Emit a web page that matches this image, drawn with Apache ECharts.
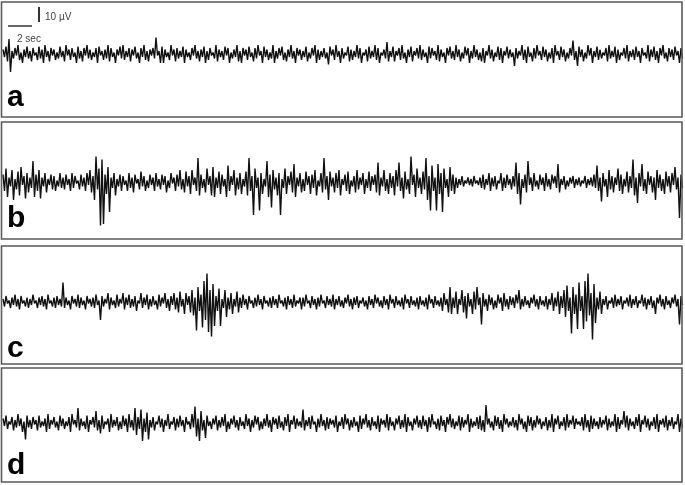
<!DOCTYPE html>
<html>
<head>
<meta charset="utf-8">
<script src="https://cdn.jsdelivr.net/npm/echarts@6/dist/echarts.min.js"></script>
<style>
html, body { margin: 0; padding: 0; background: #fff; }
#main { width: 685px; height: 485px; }
</style>
</head>
<body>
<div id="main"></div>
<script>
// 每 0.25 秒一格, 每格读取上沿和下沿 (µV)
var step = 0.25;

var hiA = [
	3,5,10,2,4,6,1,3,5,2,
	4,1,5,3,6,2,4,3,1,5,
	2,6,3,4,1,5,2,4,6,3,
	1,4,5,2,3,6,4,1,3,5,
	6,2,4,3,5,1,4,6,2,3,
	4,11,2,5,3,1,6,3,4,2,
	5,3,1,4,6,2,3,5,2,4,
	1,6,3,2,5,4,1,3,6,2,
	4,3,5,1,4,6,2,5,3,1,
	6,2,4,5,1,3,6,2,4,3,
	2,5,1,4,6,3,2,4,1,5,
	3,6,2,4,1,5,3,2,6,4,
	1,3,5,2,6,4,1,3,8,2,
	5,2,4,6,1,3,5,2,4,6,
	3,1,5,4,2,6,3,1,4,5,
	2,6,3,1,5,4,2,6,3,1,
	4,2,6,3,1,5,4,2,5,3,
	1,4,2,6,3,5,1,4,6,2,
	5,3,1,4,6,2,5,3,1,4,
	9,2,5,3,1,6,4,2,5,3,
	1,4,6,2,5,3,1,4,6,2,
	3,5,2,4,1,6,3,5,2,4,
	6,1,4,3,5,2,4
];
var loA = [
	-2,-5,-12,-3,-1,-4,-6,-2,-3,-5,
	-1,-4,-3,-6,-2,-5,-1,-4,-3,-2,
	-5,-1,-4,-2,-6,-3,-5,-1,-3,-4,
	-2,-6,-1,-4,-3,-5,-2,-6,-1,-3,
	-4,-2,-5,-1,-3,-6,-2,-4,-5,-1,
	-3,-1,-6,-6,-2,-4,-1,-5,-3,-2,
	-6,-2,-4,-1,-3,-5,-2,-6,-4,-1,
	-3,-5,-2,-4,-1,-6,-3,-2,-5,-6,
	-1,-4,-2,-5,-3,-1,-6,-2,-4,-3,
	-6,-3,-1,-4,-5,-2,-3,-6,-1,-4,
	-2,-5,-3,-1,-6,-4,-2,-3,-7,-1,
	-4,-2,-6,-3,-1,-5,-4,-2,-3,-6,
	-1,-5,-3,-2,-4,-6,-1,-3,-5,-2,
	-5,-1,-4,-3,-6,-2,-5,-1,-3,-4,
	-2,-6,-3,-1,-4,-5,-2,-6,-1,-3,
	-4,-2,-5,-3,-1,-6,-3,-2,-4,-5,
	-6,-1,-3,-5,-2,-4,-6,-1,-3,-2,
	-8,-3,-1,-4,-6,-2,-5,-3,-1,-4,
	-2,-5,-3,-6,-1,-4,-2,-5,-3,-1,
	-4,-8,-2,-5,-3,-1,-6,-2,-4,-3,
	-1,-5,-3,-2,-6,-4,-1,-3,-5,-2,
	-4,-2,-6,-1,-3,-5,-2,-4,-6,-1,
	-3,-5,-2,-4,-1,-6,-3
];

var hiB = [
	5,9,3,8,2,7,10,4,6,3,
	14,5,8,3,6,2,5,4,1,6,
	3,5,2,6,4,1,5,3,6,8,
	4,17,9,15,5,10,3,6,2,5,
	4,1,6,3,5,2,7,4,1,5,
	3,6,2,5,4,1,6,3,5,8,
	2,7,4,8,3,16,5,2,9,4,
	10,3,7,5,2,11,4,8,3,6,
	2,7,16,4,9,3,6,2,14,5,
	8,3,6,2,9,4,7,12,3,6,
	2,7,4,5,8,1,6,16,4,7,
	3,6,8,2,5,7,1,4,8,3,
	6,2,7,4,5,13,3,8,2,6,
	4,8,13,3,7,2,17,5,9,3,
	7,16,4,11,3,12,6,9,2,10,
	5,3,2,4,1,3,2,4,1,3,
	5,2,6,3,4,1,6,3,5,2,
	4,13,6,2,5,14,3,6,1,5,
	3,6,2,5,4,12,2,4,1,3,
	4,2,3,1,4,2,3,5,11,3,
	6,2,8,4,3,9,5,2,7,4,
	15,3,6,12,2,7,4,3,8,5,
	2,7,4,6,10,3,5
];
var loB = [
	-6,-10,-3,-12,-5,-9,-2,-11,-7,-4,
	-10,-6,-11,-3,-7,-2,-5,-6,-3,-4,
	-5,-2,-6,-4,-1,-5,-3,-6,-2,-7,
	-12,-5,-29,-28,-8,-20,-4,-9,-3,-6,
	-2,-6,-4,-7,-1,-5,-3,-6,-4,-2,
	-6,-3,-5,-2,-7,-4,-1,-6,-3,-5,
	-7,-3,-8,-2,-6,-9,-4,-7,-2,-9,
	-10,-4,-8,-3,-10,-6,-2,-9,-5,-8,
	-3,-9,-6,-22,-4,-19,-8,-3,-10,-17,
	-5,-9,-22,-4,-8,-2,-7,-10,-3,-7,
	-6,-2,-8,-4,-9,-3,-7,-5,-12,-3,
	-7,-4,-9,-2,-6,-8,-3,-7,-5,-2,
	-8,-4,-6,-2,-7,-9,-3,-6,-8,-4,
	-9,-3,-6,-11,-5,-8,-2,-10,-4,-8,
	-5,-12,-19,-6,-19,-8,-20,-4,-10,-6,
	-8,-4,-2,-3,-1,-2,-3,-1,-2,-4,
	-5,-2,-6,-3,-5,-1,-6,-4,-2,-5,
	-3,-8,-15,-4,-7,-2,-6,-3,-5,-2,
	-6,-3,-5,-1,-4,-7,-2,-5,-3,-1,
	-4,-2,-3,-1,-4,-2,-3,-4,-6,-13,
	-3,-10,-5,-7,-2,-6,-8,-3,-7,-4,
	-9,-14,-3,-6,-8,-2,-7,-12,-4,-6,
	-8,-3,-7,-2,-5,-24,-4
];

var hiC = [
	2,4,1,3,5,2,4,1,3,2,
	5,1,3,4,2,5,1,3,4,2,
	13,3,1,4,2,5,3,1,4,2,
	3,5,1,4,2,6,3,1,5,2,
	6,3,5,2,4,1,6,3,5,2,
	4,1,5,3,6,2,4,6,3,7,
	2,6,4,8,3,10,5,14,19,8,
	12,4,9,2,8,3,6,2,7,3,
	5,2,4,1,3,5,2,4,1,3,
	4,2,5,1,3,4,2,5,1,3,
	3,5,1,4,2,3,5,1,4,2,
	5,2,4,1,3,5,2,3,4,1,
	3,1,4,2,5,3,1,4,2,5,
	2,4,1,3,5,2,4,1,3,4,
	1,3,5,2,4,1,3,6,2,10,
	3,7,2,8,4,6,2,7,10,3,
	6,2,5,3,1,5,3,6,2,4,
	3,5,8,2,4,1,3,5,2,4,
	1,4,2,6,3,7,4,8,11,3,
	10,5,13,4,14,19,6,12,3,7,
	2,4,1,3,5,2,4,1,3,5,
	2,4,1,5,3,2,4,1,3,5,
	2,4,1,3,5,2,4
];
var loC = [
	-3,-1,-4,-2,-3,-5,-1,-3,-4,-2,
	-1,-4,-2,-3,-5,-1,-3,-4,-2,-3,
	-4,-2,-5,-1,-3,-4,-2,-5,-1,-3,
	-4,-2,-12,-3,-1,-5,-2,-4,-3,-1,
	-5,-2,-4,-3,-6,-1,-4,-2,-5,-3,
	-2,-5,-3,-1,-4,-6,-2,-5,-7,-3,
	-8,-2,-7,-9,-19,-6,-17,-12,-20,-23,
	-16,-6,-16,-4,-10,-5,-8,-3,-7,-4,
	-2,-5,-1,-4,-3,-2,-5,-1,-3,-4,
	-2,-4,-1,-3,-5,-2,-4,-3,-1,-5,
	-3,-1,-4,-2,-5,-3,-1,-4,-2,-3,
	-5,-2,-3,-4,-1,-3,-5,-2,-4,-1,
	-3,-5,-2,-4,-1,-3,-4,-2,-5,-1,
	-4,-2,-3,-5,-1,-4,-2,-3,-5,-2,
	-3,-5,-1,-4,-2,-3,-6,-2,-7,-8,
	-4,-8,-2,-7,-11,-3,-8,-5,-2,-15,
	-3,-6,-2,-5,-4,-1,-6,-3,-5,-2,
	-4,-1,-5,-3,-2,-4,-1,-3,-5,-2,
	-3,-5,-2,-6,-3,-8,-4,-10,-6,-21,
	-8,-18,-6,-18,-13,-9,-25,-14,-5,-8,
	-2,-5,-1,-4,-3,-2,-5,-1,-3,-4,
	-2,-4,-1,-3,-5,-2,-4,-8,-1,-3,
	-5,-2,-4,-1,-3,-15,-2
];

var hiD = [
	3,5,1,4,2,6,3,1,5,2,
	4,2,5,1,3,6,2,4,1,5,
	3,1,4,6,2,10,3,1,5,2,
	4,8,2,5,1,3,6,2,4,1,
	5,3,6,2,10,4,9,3,7,2,
	4,1,5,3,2,6,1,4,3,5,
	2,4,1,6,11,3,8,2,5,1,
	3,5,2,4,6,1,3,5,2,4,
	1,6,3,2,5,4,1,3,6,2,
	4,3,5,1,4,6,2,5,3,1,
	9,2,4,5,1,3,6,2,4,3,
	2,5,1,4,6,3,2,4,1,5,
	3,6,2,4,1,5,3,2,6,4,
	1,3,5,2,6,4,1,3,5,2,
	5,2,4,6,1,3,5,2,4,6,
	3,1,5,4,2,6,3,1,4,5,
	2,12,3,1,5,4,2,6,3,1,
	4,2,6,3,1,5,4,2,5,3,
	1,4,2,6,3,5,1,4,6,2,
	5,3,1,4,6,2,5,3,1,4,
	2,5,3,1,6,4,2,8,5,3,
	1,4,6,2,5,3,1,4,6,2,
	3,5,2,4,1,6,3
];
var loD = [
	-2,-4,-1,-5,-3,-2,-6,-11,-3,-4,
	-1,-5,-3,-2,-6,-4,-1,-3,-5,-2,
	-4,-2,-6,-1,-3,-5,-2,-4,-6,-1,
	-3,-5,-7,-4,-1,-6,-3,-2,-5,-4,
	-2,-6,-3,-5,-8,-4,-12,-6,-11,-3,
	-5,-1,-3,-6,-2,-4,-1,-5,-3,-2,
	-6,-1,-4,-3,-9,-12,-5,-10,-2,-4,
	-1,-5,-3,-2,-6,-4,-1,-3,-5,-2,
	-4,-2,-6,-3,-1,-5,-4,-2,-3,-6,
	-1,-4,-3,-5,-2,-6,-1,-4,-2,-3,
	-5,-2,-4,-1,-6,-3,-2,-5,-4,-1,
	-3,-6,-2,-4,-1,-5,-3,-2,-6,-4,
	-1,-3,-5,-2,-4,-6,-1,-3,-5,-2,
	-5,-1,-4,-3,-6,-2,-5,-1,-3,-4,
	-2,-6,-3,-1,-4,-5,-2,-6,-1,-3,
	-4,-2,-5,-3,-1,-6,-3,-2,-4,-5,
	-6,-1,-3,-5,-2,-4,-6,-1,-3,-2,
	-3,-5,-1,-4,-6,-2,-5,-3,-1,-4,
	-2,-5,-3,-6,-1,-4,-2,-5,-3,-1,
	-4,-1,-2,-5,-3,-6,-4,-2,-4,-3,
	-1,-5,-3,-2,-6,-4,-1,-3,-5,-2,
	-4,-2,-6,-1,-3,-5,-2,-4,-6,-1,
	-3,-5,-2,-4,-1,-6,-3
];

var his = [hiA, hiB, hiC, hiD];
var los = [loA, loB, loC, loD];
var labels = ['a', 'b', 'c', 'd'];

// 面板: 边框上下, 基线位置, 字母位置
var boxTop = [2, 122, 246, 368];
var boxBottom = [117, 239, 364, 482];
var baseY = [54, 182, 302, 423];
var labelY = [113, 234, 364, 481];

var pxPerUV = 1.5;
var yRange = 35;

var chart = echarts.init(document.getElementById('main'), null, { renderer: 'canvas' });

var grids = [], xAxes = [], yAxes = [], series = [], graphics = [];

his.forEach(function(hi, k) {
	var lo = los[k];
	var pts = [];
	hi.forEach(function(v, i) {
		pts.push([i * step, v]);
		pts.push([i * step + step / 2, lo[i]]);
	});
	grids.push({
		left: 3,
		width: 681,
		top: baseY[k] - yRange * pxPerUV,
		height: yRange * pxPerUV * 2
	});
	xAxes.push({
		type: 'value', gridIndex: k, min: 0, max: 56.75, show: false
	});
	yAxes.push({
		type: 'value', gridIndex: k, min: -yRange, max: yRange, show: false
	});
	series.push({
		type: 'line',
		xAxisIndex: k,
		yAxisIndex: k,
		data: pts,
		showSymbol: false,
		symbol: 'none',
		clip: false,
		lineStyle: { color: '#111', width: 1.4 }
	});

	graphics.push({
		type: 'rect',
		shape: { x: 1.5, y: boxTop[k], width: 680.5, height: boxBottom[k] - boxTop[k] },
		style: { fill: null, stroke: '#5a5a5a', lineWidth: 1.6 },
		z: 10
	});
	graphics.push({
		type: 'text',
		x: 7,
		y: labelY[k],
		style: {
			text: labels[k],
			fill: '#000',
			font: 'bold 30px "Liberation Sans", Arial, sans-serif',
			textAlign: 'left',
			textVerticalAlign: 'bottom'
		},
		z: 11
	});
});

// 比例尺
graphics.push({
	type: 'line',
	shape: { x1: 8, y1: 26, x2: 32, y2: 26 },
	style: { stroke: '#333', lineWidth: 1.5 },
	z: 11
});
graphics.push({
	type: 'line',
	shape: { x1: 39, y1: 7, x2: 39, y2: 22 },
	style: { stroke: '#333', lineWidth: 2 },
	z: 11
});
graphics.push({
	type: 'text',
	x: 45,
	y: 17,
	style: {
		text: '10 µV',
		fill: '#444',
		font: '10px "Liberation Sans", Arial, sans-serif',
		textAlign: 'left',
		textVerticalAlign: 'middle'
	},
	z: 11
});
graphics.push({
	type: 'text',
	x: 17,
	y: 39,
	style: {
		text: '2 sec',
		fill: '#444',
		font: '10px "Liberation Sans", Arial, sans-serif',
		textAlign: 'left',
		textVerticalAlign: 'middle'
	},
	z: 11
});

chart.setOption({
	animation: false,
	backgroundColor: '#fff',
	grid: grids,
	xAxis: xAxes,
	yAxis: yAxes,
	series: series,
	graphic: graphics
});
</script>
</body>
</html>
